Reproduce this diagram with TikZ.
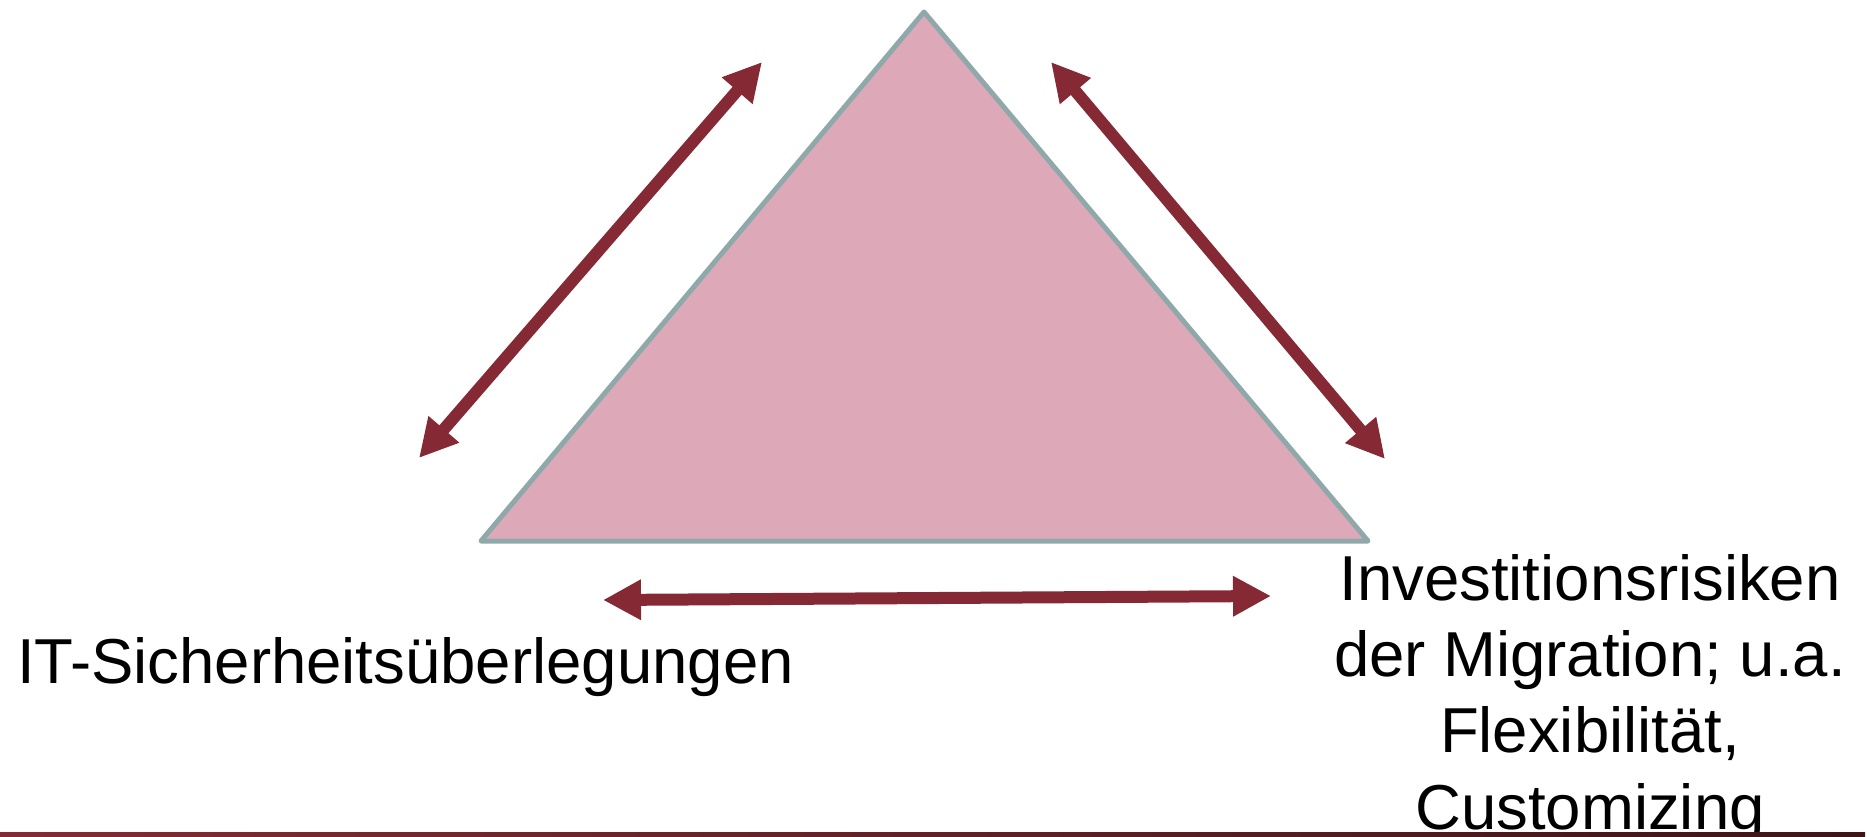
\documentclass[tikz,border=0pt]{standalone}
\usepackage{fontspec}
\setmainfont{Liberation Sans}
\usetikzlibrary{arrows.meta}
\definecolor{arrowred}{RGB}{133,42,53}
\definecolor{trifill}{RGB}{221,169,185}
\definecolor{triedge}{RGB}{143,169,170}
\definecolor{lineend}{RGB}{62,20,25}
\begin{document}
\begin{tikzpicture}[x=1pt, y=-1pt,
        link/.style={draw=arrowred, line width=12pt, {Triangle[length=38pt, width=38pt]}-{Triangle[length=38pt, width=38pt]}},
        label/.style={inner sep=0pt, font=\fontsize{63.5}{76.2}\selectfont}]
        \useasboundingbox (0,0) rectangle (1870,836);

        % triangle
        \coordinate (top) at (924,12);
        \coordinate (left) at (481,541);
        \coordinate (right) at (1368,541);
        \filldraw[fill=trifill, draw=triedge, line width=5pt, line join=round] (top) -- (left) -- (right) -- cycle;

        % arrow ends
        \coordinate (la) at (419,458);
        \coordinate (lb) at (762,62);
        \coordinate (ra) at (1051,62);
        \coordinate (rb) at (1385,459);
        \coordinate (ba) at (603,600);
        \coordinate (bb) at (1271,596);

        \draw[link] (la) -- (lb);
        \draw[link] (ra) -- (rb);
        \draw[link] (ba) -- (bb);

        \node[label, anchor=base west] (security) at (17,683) {IT-Sicherheitsüberlegungen};
        \node[label, anchor=base, align=center] (risks) at (1590,829) {Investitionsrisiken\\der Migration; u.a.\\Flexibilität,\\Customizing};

        % footer line
        \shade[left color=arrowred, right color=lineend] (0,832) rectangle (1865,836);
    \end{tikzpicture}
\end{document}
